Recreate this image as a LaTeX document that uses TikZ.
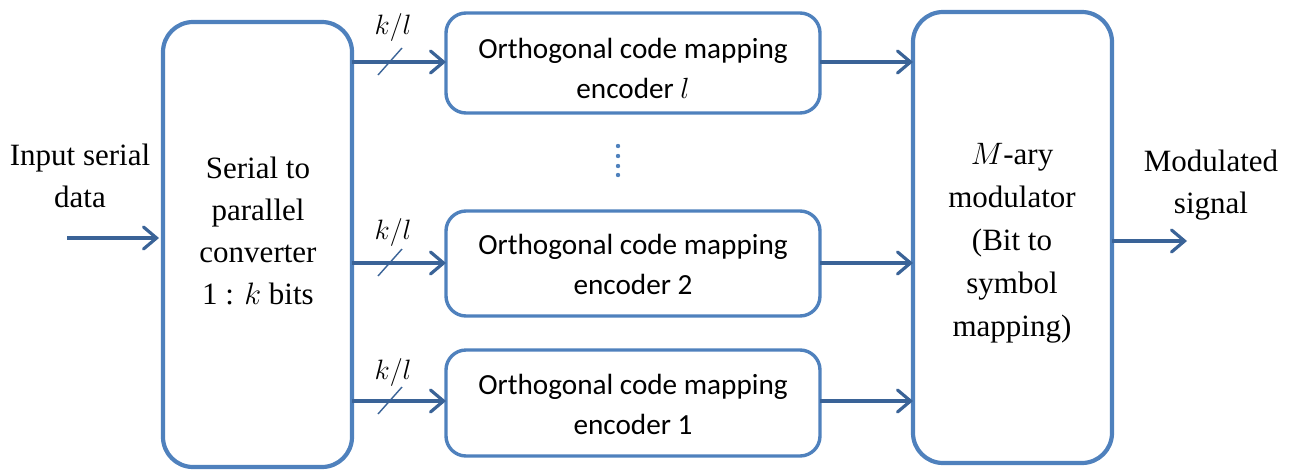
\RequirePackage{fix-cm}
\documentclass[tikz,border=0pt]{standalone}
\usepackage{fontspec}
\setmainfont{Liberation Serif}
\newfontfamily\encfont{Carlito}
\usetikzlibrary{arrows.meta}
\definecolor{boxblue}{HTML}{4F81BD}
\definecolor{linkblue}{HTML}{3A6397}
\tikzset{
  bigbox/.style={draw=boxblue, line width=4.2pt, rounded corners=30pt, fill=white,
    minimum width=#1, inner sep=0pt, outer sep=0pt},
  encbox/.style={draw=boxblue, line width=3.4pt, rounded corners=20pt, fill=white,
    minimum width=374pt, inner sep=0pt, outer sep=0pt},
  link/.style={draw=linkblue, line width=3.2pt,
    -{Straight Barb[length=13pt,width=22pt,line width=3.2pt,line cap=round]}},
  slashmark/.style={draw=linkblue, line width=1.4pt},
  serif/.style={font=\fontsize{31}{42}\selectfont, align=center, inner sep=0pt},
  enctext/.style={font=\encfont\fontsize{29.2}{40}\selectfont, align=center, inner sep=0pt},
  ratio/.style={font=\fontsize{28}{34}\selectfont, inner sep=0pt},
  dotmark/.style={fill=boxblue, draw=none},
}
\begin{document}
\begin{tikzpicture}[x=1pt, y=-1pt]
\useasboundingbox (0,0) rectangle (1296,472);

% main blocks
\node[bigbox=189pt, minimum height=445pt] (sp) at (257.5,244.5) {};
\node[bigbox=199pt, minimum height=451pt] (mary) at (1012.5,237.5) {};
\node[encbox, minimum height=100pt] (encl) at (633,63) {};
\node[encbox, minimum height=105pt] (enc2) at (633,263.5) {};
\node[encbox, minimum height=106pt] (enc1) at (633,403) {};

% block texts
\node[serif] (sptext) at (258,231) {Serial to\\ parallel\\ converter\\ 1 : $k$ bits};
\node[serif, font=\fontsize{31}{43}\selectfont] (marytext) at (1012,243)
  {$M$-ary\\ modulator\\ (Bit to\\ symbol\\ mapping)};
\node[enctext] (encltext) at (633,68) {Orthogonal code mapping\\ encoder $l$};
\node[enctext] (enc2text) at (633,264) {Orthogonal code mapping\\ encoder 2};
\node[enctext] (enc1text) at (633,404) {Orthogonal code mapping\\ encoder 1};

% outer labels
\node[serif] (inlabel) at (80,176) {Input serial\\ data};
\node[serif] (outlabel) at (1211,185) {Modulated\\ signal};

% input and output arrows
\coordinate (src) at (67,238);
\coordinate (dst) at (1187,241);
\draw[link, shorten >=4pt] (src) -- (sp.west |- src);
\draw[link, shorten >=0pt] (mary.east |- dst) -- (dst);

% parallel branches into the encoders
\foreach \e/\ly in {encl/62, enc2/263, enc1/401}{
  \coordinate (a-\e) at (0,\ly);
  \draw[link] (sp.east |- a-\e) -- (\e.west |- a-\e);
  \draw[slashmark] ([xshift=-12pt,yshift=-13pt]390,\ly) -- ([xshift=12pt,yshift=14pt]390,\ly);
  \draw[link] (\e.east |- a-\e) -- (mary.west |- a-\e);
}
\node[ratio] (rl) at (393,27) {$k/l$};
\node[ratio] (r2) at (393,232) {$k/l$};
\node[ratio] (r1) at (393,372) {$k/l$};

% vertical ellipsis between the encoders
\foreach \dy in {146,156,166,175}
  \fill[dotmark] (618,\dy) circle (2.2pt);
\end{tikzpicture}
\end{document}
